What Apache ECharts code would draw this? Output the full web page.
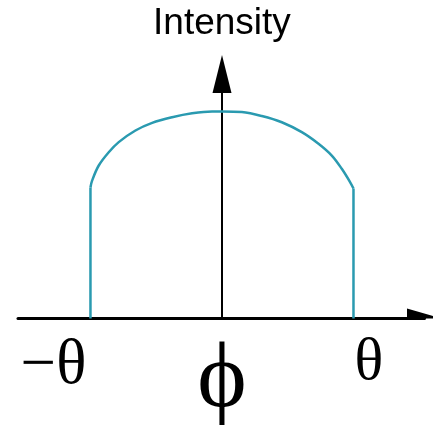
<!DOCTYPE html>
<html>
<head>
<meta charset="utf-8">
<script src="https://cdn.jsdelivr.net/npm/echarts@6/dist/echarts.min.js"></script>
<style>
  html, body { margin: 0; padding: 0; background: #ffffff; }
  #chart { width: 433px; height: 425px; }
</style>
</head>
<body>
<div id="chart"></div>
<script>
// Angle (θ = 1) and relative intensity
const arcAngles = [-1.0, -0.987, -0.937, -0.861, -0.785, -0.658, -0.531, -0.379, -0.227, -0.075, 0.0, 0.151, 0.303, 0.455, 0.607, 0.734, 0.835, 0.911, 0.975, 1.0];
const arcIntensity = [0.633, 0.667, 0.739, 0.803, 0.852, 0.908, 0.945, 0.972, 0.991, 1.0, 1.0, 0.997, 0.978, 0.948, 0.900, 0.844, 0.787, 0.723, 0.658, 0.628];
const cutoffAngles = [-1, 1];
const tickValues = [-1, 0, 1];
const tickLabels = ['−θ', 'ϕ', 'θ'];
const tickStyles = ['a', 'b', 'c'];
const yAxisName = 'Intensity';

const arcPoints = arcAngles.map((a, i) => [a, arcIntensity[i]]);
const last = arcAngles.length - 1;
const leftEdge = [[cutoffAngles[0], 0], [arcAngles[0], arcIntensity[0]]];
const rightEdge = [[arcAngles[last], arcIntensity[last]], [cutoffAngles[1], 0]];

const teal = '#2a9ab0';
const lineCommon = { type: 'line', showSymbol: false, symbol: 'none', z: 1, lineStyle: { color: teal, width: 2.5 } };

const chart = echarts.init(document.getElementById('chart'), null, { renderer: 'canvas' });
chart.setOption({
  backgroundColor: '#ffffff',
  animation: false,
  grid: { left: 18, right: 8.5, top: 74, bottom: 106.5, containLabel: false, outerBoundsMode: 'none' },
  xAxis: {
    type: 'value',
    min: -1.551,
    max: 1.54,
    splitLine: { show: false },
    axisTick: { show: false },
    axisLine: {
      show: true,
      onZero: false,
      lineStyle: { color: '#000', width: 3 },
      symbol: ['none', 'path://M10,0 L0,35 L10,35 Z M20,35 L20,34.9 Z'],
      symbolSize: [20, 35]
    },
    axisLabel: {
      show: true,
      customValues: tickValues,
      margin: 0,
      verticalAlign: 'top',
      color: '#000',
      formatter: function (v) {
        const i = tickValues.indexOf(Math.round(v));
        return i < 0 ? '' : '{' + tickStyles[i] + '|' + tickLabels[i] + '}';
      },
      rich: {
        a: { fontFamily: 'Liberation Serif', fontSize: 63, lineHeight: 95, color: '#000', padding: [0, 74, 0, 0] },
        b: { fontFamily: 'Liberation Serif', fontSize: 94, lineHeight: 126, color: '#000', padding: [0, 0, 0, 0] },
        c: { fontFamily: 'Liberation Serif', fontSize: 60, lineHeight: 90, color: '#000', padding: [0, 0, 0, 31] }
      }
    }
  },
  yAxis: {
    type: 'value',
    min: 0,
    max: 1.181,
    name: yAxisName,
    nameLocation: 'end',
    nameGap: 32,
    nameTextStyle: { fontFamily: 'Liberation Sans', fontSize: 37, color: '#000' },
    splitLine: { show: false },
    axisTick: { show: false },
    axisLabel: { show: false },
    axisLine: {
      show: true,
      onZero: true,
      lineStyle: { color: '#000', width: 2 },
      symbol: ['none', 'triangle'],
      symbolSize: [19, 38]
    }
  },
  series: [
    Object.assign({}, lineCommon, { data: arcPoints, smooth: 0.35 }),
    Object.assign({}, lineCommon, { data: leftEdge, smooth: false }),
    Object.assign({}, lineCommon, { data: rightEdge, smooth: false })
  ]
});
</script>
</body>
</html>
